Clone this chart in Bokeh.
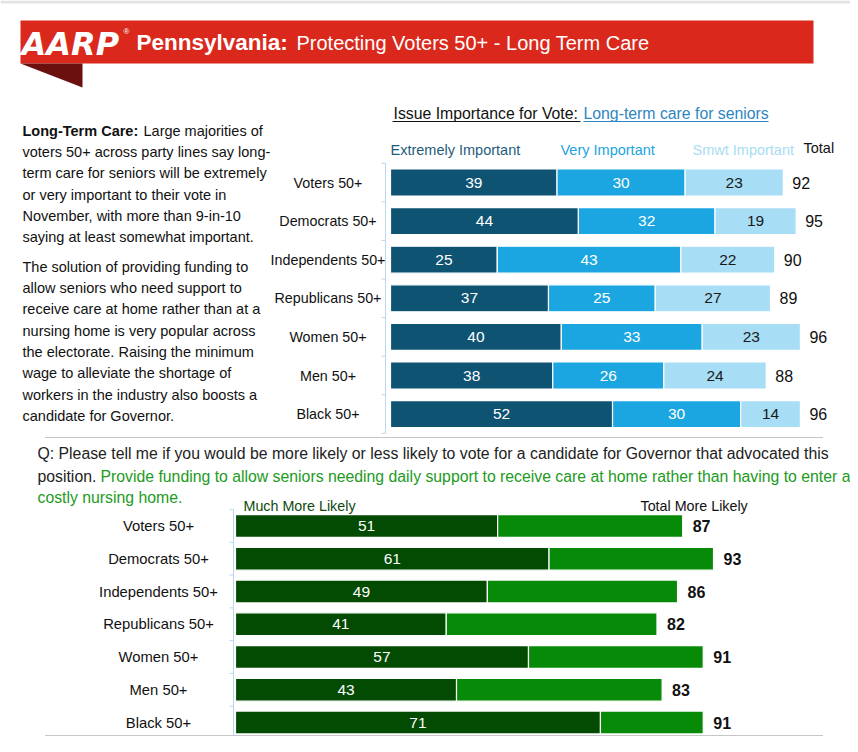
from bokeh.plotting import figure
from bokeh.models import Range1d, ColumnDataSource
from bokeh.embed import file_html
from bokeh.resources import INLINE
from bokeh.core.properties import value

# ---------------- data ----------------
groups = ["Voters 50+", "Democrats 50+", "Independents 50+", "Republicans 50+",
          "Women 50+", "Men 50+", "Black 50+"]
extremely = [39, 44, 25, 37, 40, 38, 52]
very = [30, 32, 43, 25, 33, 26, 30]
smwt = [23, 19, 22, 27, 23, 24, 14]
total_imp = [92, 95, 90, 89, 96, 88, 96]

much_more = [51, 61, 49, 41, 57, 43, 71]
total_more = [87, 93, 86, 82, 91, 83, 91]

top_legend = ["Extremely Important", "Very Important", "Smwt Important", "Total"]
bot_legend = ["Much More Likely", "Total More Likely"]

banner_bold = "Pennsylvania:"
banner_rest = "Protecting Voters 50+ - Long Term Care"
top_title_a = "Issue Importance for Vote: "
top_title_b = "Long-term care for seniors"

para1_bold = "Long-Term Care:"
para1 = ["Large majorities of",
         "voters 50+ across party lines say long-",
         "term care for seniors will be extremely",
         "or very important to their vote in",
         "November, with more than 9-in-10",
         "saying at least somewhat important."]
para2 = ["The solution of providing funding to",
         "allow seniors who need support to",
         "receive care at home rather than at a",
         "nursing home is very popular across",
         "the electorate. Raising the minimum",
         "wage to alleviate the shortage of",
         "workers in the industry also boosts a",
         "candidate for Governor."]
question_1 = ("Q: Please tell me if you would be more likely or less likely to vote "
              "for a candidate for Governor that advocated this")
question_2a = "position."
question_2b = ("Provide funding to allow seniors needing daily support to receive care "
               "at home rather than having to enter a")
question_3 = "costly nursing home."

# ---------------- layout constants ----------------
W, H, O = 850, 736, 0   # figure size; O = picture offset of the frame
FONT = value("Liberation Sans")

TOP_X0, TOP_PX = 390, 4.27        # picture x of 0 %, pixels per point
TOP_Y0, TOP_PITCH = 182, 38.6     # picture y of first row, row pitch
BOT_X0, BOT_PX = 235, 5.14
BOT_Y0, BOT_PITCH = 525.5, 32.75

C_EXT, C_VERY, C_SMWT = "#0F5373", "#1BA6E1", "#A7DDF5"
C_MUCH, C_MORE = "#034A03", "#078A08"
C_AXIS = "#BCD6EC"

p = figure(width=W, height=H, x_range=Range1d(O, O + W), y_range=Range1d(O + H, O),
           output_backend="svg", toolbar_location=None,
           x_axis_location=None, y_axis_location=None, min_border=0,
           outline_line_color=None, background_fill_color="white",
           border_fill_color="white")
p.grid.visible = False

p.extra_x_ranges = {
    "top_x": Range1d((O - TOP_X0) / TOP_PX, (O + W - TOP_X0) / TOP_PX),
    "bot_x": Range1d((O - BOT_X0) / BOT_PX, (O + W - BOT_X0) / BOT_PX),
}
p.extra_y_ranges = {
    "top_y": Range1d((O + H - TOP_Y0) / TOP_PITCH, (O - TOP_Y0) / TOP_PITCH),
    "bot_y": Range1d((O + H - BOT_Y0) / BOT_PITCH, (O - BOT_Y0) / BOT_PITCH),
}

def txt(x, y, t, size, color="#111111", style="normal", align="left", **kw):
    p.text(x=[x], y=[y], text=[t], text_font=kw.pop("font", FONT),
           text_font_size=size, text_color=color, text_font_style=style,
           text_align=align, text_baseline="middle", **kw)

# ---------------- page top rule & banner ----------------
p.quad(left=[0], right=[W], top=[0], bottom=[3], fill_color="#E3E3E3", line_color=None)
p.quad(left=[20], right=[813], top=[20], bottom=[63], fill_color="#DA291C", line_color=None)
p.patch(x=[20, 82, 82], y=[63, 63, 87], fill_color="#6B0F0F", line_color=None)
txt(21, 43, "AARP", "32px", color="white", style="bold italic", font=value("DejaVu Sans"))
txt(123, 31, "\u00ae", "8px", color="white")
txt(136, 42, banner_bold, "22.5px", color="white", style="bold")
txt(296, 42, banner_rest, "20px", color="white")

# ---------------- left paragraph ----------------
LINE = 21.35
txt(22, 130, para1_bold, "14.5px", style="bold")
for i, line in enumerate(para1):
    txt(143 if i == 0 else 22, 130 + i * LINE, line, "14.5px")
for i, line in enumerate(para2):
    txt(22, 266 + i * LINE, line, "14.5px")

# ---------------- top chart ----------------
txt(393, 113, top_title_a, "15.8px")
txt(583, 113, top_title_b, "15.8px", color="#2E86C1")
p.segment(x0=[392, 583], x1=[580, 768], y0=[121, 121], y1=[121, 121],
          line_color=["#111111", "#2E86C1"], line_width=1)

txt(390, 149, top_legend[0], "14.5px", color="#1F5C7C")
txt(560, 149, top_legend[1], "14.5px", color="#1CA4E0")
txt(692, 149, top_legend[2], "14.5px", color="#A9DCF3")
txt(803, 147, top_legend[3], "14.5px", color="#111111")

rows = list(range(len(groups)))
e_end = extremely
v_end = [a + b for a, b in zip(extremely, very)]
s_end = [a + b for a, b in zip(v_end, smwt)]
top_src = ColumnDataSource(dict(
    row=rows, group=groups, e_end=e_end, v_end=v_end, s_end=s_end, total=total_imp,
    e_mid=[a / 2 for a in extremely],
    v_mid=[a + b / 2 for a, b in zip(e_end, very)],
    s_mid=[a + b / 2 for a, b in zip(v_end, smwt)],
    e_lbl=[str(v) for v in extremely], v_lbl=[str(v) for v in very],
    s_lbl=[str(v) for v in smwt], t_lbl=[str(v) for v in total_imp],
    zero=[0] * len(rows),
))
rk = dict(x_range_name="top_x", y_range_name="top_y", source=top_src)
BH = 0.7
p.hbar(y="row", left="zero", right="e_end", height=BH, fill_color=C_EXT,
       line_color="white", line_width=1.2, **rk)
p.hbar(y="row", left="e_end", right="v_end", height=BH, fill_color=C_VERY,
       line_color="white", line_width=1.2, **rk)
p.hbar(y="row", left="v_end", right="s_end", height=BH, fill_color=C_SMWT,
       line_color="white", line_width=1.2, **rk)
tk = dict(text_font=FONT, text_font_size="15.5px", text_align="center",
          text_baseline="middle")
p.text(x="e_mid", y="row", text="e_lbl", text_color="white", **tk, **rk)
p.text(x="v_mid", y="row", text="v_lbl", text_color="white", **tk, **rk)
p.text(x="s_mid", y="row", text="s_lbl", text_color="#1a1a1a", **tk, **rk)
p.text(x="total", y="row", text="t_lbl", text_color="#111111", x_offset=9,
       text_font=FONT, text_font_size="16px", text_align="left",
       text_baseline="middle", **rk)
# category labels
p.text(x=327.5, y="row", text="group", text_color="#111111", text_font=FONT,
       text_font_size="14.3px", text_align="center", text_baseline="middle",
       y_range_name="top_y", source=top_src)
# axis line and ticks
n = len(groups)
p.segment(x0=[385], x1=[385], y0=[-0.5], y1=[n - 0.5], line_color=C_AXIS,
          line_width=1, y_range_name="top_y")
p.segment(x0=[381] * (n + 1), x1=[385] * (n + 1), y0=[i - 0.5 for i in range(n + 1)],
          y1=[i - 0.5 for i in range(n + 1)], line_color=C_AXIS, line_width=1,
          y_range_name="top_y")

# separators
p.segment(x0=[45, 45], x1=[822, 822], y0=[437, 735], y1=[437, 735],
          line_color="#8c8c8c", line_width=1, line_dash="1 1")

# ---------------- question ----------------
txt(37, 453, question_1, "15.8px", color="#222222")
txt(37, 476, question_2a, "15.8px", color="#222222")
txt(100, 476, question_2b, "15.8px", color="#229A22")
txt(37, 497, question_3, "15.8px", color="#229A22")

# ---------------- bottom chart ----------------
txt(243, 505, bot_legend[0], "14.3px", color="#0E4A0E")
txt(640, 505, bot_legend[1], "14.3px", color="#111111")

bot_src = ColumnDataSource(dict(
    row=rows, group=groups, much=much_more, total=total_more,
    mid=[v / 2 for v in much_more], zero=[0] * len(rows),
    m_lbl=[str(v) for v in much_more], t_lbl=[str(v) for v in total_more],
))
bk = dict(x_range_name="bot_x", y_range_name="bot_y", source=bot_src)
p.hbar(y="row", left="zero", right="much", height=0.7, fill_color=C_MUCH,
       line_color="white", line_width=1.2, **bk)
p.hbar(y="row", left="much", right="total", height=0.7, fill_color=C_MORE,
       line_color="white", line_width=1.2, **bk)
p.text(x="mid", y="row", text="m_lbl", text_color="white", text_font=FONT,
       text_font_size="15.5px", text_align="center", text_baseline="middle", **bk)
p.text(x="total", y="row", text="t_lbl", text_color="#111111", x_offset=10,
       text_font=FONT, text_font_size="16px", text_font_style="bold",
       text_align="left", text_baseline="middle", **bk)
p.text(x=158, y="row", text="group", text_color="#111111", text_font=FONT,
       text_font_size="14.8px", text_align="center", text_baseline="middle",
       y_range_name="bot_y", source=bot_src)
p.segment(x0=[233], x1=[233], y0=[-0.5], y1=[n - 0.5], line_color=C_AXIS,
          line_width=1, y_range_name="bot_y")
p.segment(x0=[229] * (n + 1), x1=[233] * (n + 1), y0=[i - 0.5 for i in range(n + 1)],
          y1=[i - 0.5 for i in range(n + 1)], line_color=C_AXIS, line_width=1,
          y_range_name="bot_y")

open("out.html", "w").write(file_html(p, INLINE))
